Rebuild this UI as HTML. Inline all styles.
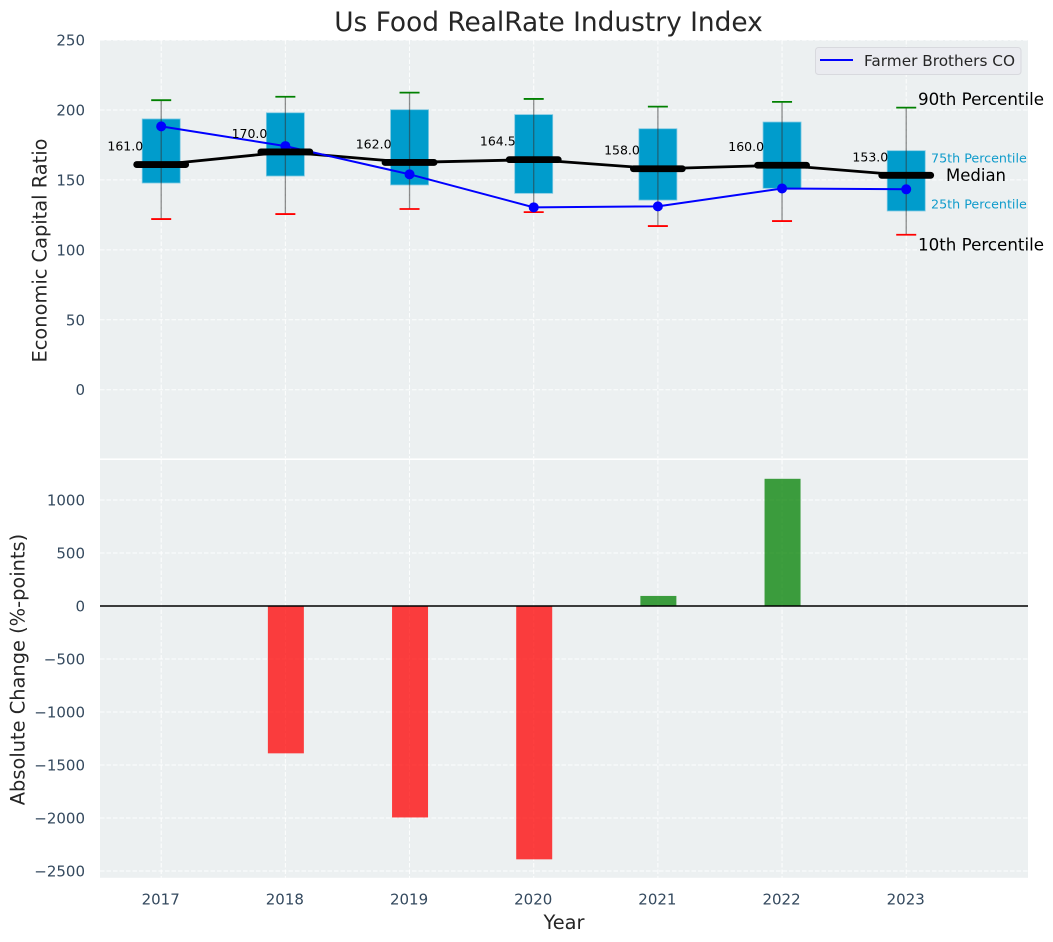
<!DOCTYPE html>
<html>
<head>
<meta charset="utf-8">
<style>
html,body{margin:0;padding:0;background:#fff;}
svg{display:block;font-family:"DejaVu Sans","Liberation Sans",sans-serif;}
</style>
</head>
<body>
<svg id="chart" width="1053" height="942" viewBox="0 0 1053 942" xmlns="http://www.w3.org/2000/svg">
<text x="548.5" y="31" text-anchor="middle" font-size="26.4px" fill="#262626">Us Food RealRate Industry Index</text>
<rect x="100" y="40" width="928" height="418.4" fill="#ecf0f1"/>
<rect x="100" y="460" width="928" height="417.8" fill="#ecf0f1"/>
<g id="grid"></g>
<g id="bars"></g>
<line x1="100" x2="1028" y1="606" y2="606" stroke="#000" stroke-width="1.4"/>
<g id="boxes"></g>
<g id="lines"></g>
<g id="medians"></g>
<g id="labels"></g>
<text transform="translate(46.5,250.5) rotate(-90)" text-anchor="middle" font-size="19.4px" fill="#262626">Economic Capital Ratio</text>
<text transform="translate(24.5,669.5) rotate(-90)" text-anchor="middle" font-size="19.4px" fill="#262626">Absolute Change (%-points)</text>
<text x="564" y="929" text-anchor="middle" font-size="19.4px" fill="#262626">Year</text>
<text x="918" y="105" font-size="16.7px" fill="#000">90th Percentile</text>
<text x="931" y="162.5" font-size="12.7px" fill="#0f9bcb">75th Percentile</text>
<text x="946" y="181" font-size="16.5px" fill="#000">Median</text>
<text x="931" y="208.5" font-size="12.7px" fill="#0f9bcb">25th Percentile</text>
<text x="918" y="250.5" font-size="16.7px" fill="#000">10th Percentile</text>
<g>
<rect x="815.5" y="47.5" width="205.5" height="27" rx="3" fill="#eaebf0" stroke="#d8d9de" stroke-width="1"/>
<line x1="820" x2="853" y1="60" y2="60" stroke="#0000ff" stroke-width="2"/>
<text x="864" y="66" font-size="15.3px" fill="#262626">Farmer Brothers CO</text>
</g>
</svg>
<script>
const years = [2017, 2018, 2019, 2020, 2021, 2022, 2023];
const p90 = [207, 209.5, 212.4, 207.9, 202.4, 205.8, 201.7];
const p75 = [193.6, 198, 200.2, 196.7, 186.6, 191.4, 170.9];
const medianValues = [161, 170, 162.5, 164.5, 158, 160.5, 153.3];
const p25 = [147.8, 152.8, 146.4, 140.4, 135.6, 144, 127.8];
const p10 = [122, 125.6, 129.2, 127, 117, 120.6, 110.8];
const company = [188.3, 174.2, 154, 130.4, 131.1, 143.9, 143.3];
const medianLabels = ["161.0", "170.0", "162.0", "164.5", "158.0", "160.0", "153.0"];
const changes = [0, -1390, -1995, -2390, 95, 1200, 0];
const topTicks = [0, 50, 100, 150, 200, 250];
const bottomTicks = [-2500, -2000, -1500, -1000, -500, 0, 500, 1000];
const NS = 'http://www.w3.org/2000/svg';
function xScale(year) { return 161.2 + (year - 2017) * 124.17; }
function yTop(value) { return 389.7 - value * 1.3985; }
function yBottom(value) { return 606 - value * 0.106; }
function make(tag, parent, attrs, text) {
  const el = document.createElementNS(NS, tag);
  for (const k in attrs) el.setAttribute(k, attrs[k]);
  if (text !== undefined) el.textContent = text;
  parent.appendChild(el);
  return el;
}
const grid = document.getElementById('grid');
const bars = document.getElementById('bars');
const boxes = document.getElementById('boxes');
const lines = document.getElementById('lines');
const medians = document.getElementById('medians');
const labels = document.getElementById('labels');
const gridStyle = { stroke: '#ffffff', 'stroke-width': 1, 'stroke-dasharray': '4.5 2', 'stroke-opacity': 0.9 };
years.forEach(function (yr) {
  const px = xScale(yr);
  const a = make('line', grid, Object.assign({ x1: px, x2: px, y1: 40, y2: 458 }, gridStyle));
  
  
  const b = make('line', grid, Object.assign({ x1: px, x2: px, y1: 460, y2: 878 }, gridStyle));
  
  
  const t = make('text', labels, { x: px - 0.5, y: 904.5, 'text-anchor': 'middle', 'font-size': '15px', fill: '#34495e' }, String(yr));
  
  
});
topTicks.forEach(function (v) {
  const py = yTop(v);
  const g = make('line', grid, Object.assign({ x1: 100, x2: 1028, y1: py, y2: py }, gridStyle));
  
  
  const t = make('text', labels, { x: 85, y: py + 5.5, 'text-anchor': 'end', 'font-size': '15px', fill: '#34495e' }, String(v));
  
  
});
bottomTicks.forEach(function (v) {
  const py = yBottom(v);
  const g = make('line', grid, Object.assign({ x1: 100, x2: 1028, y1: py, y2: py }, gridStyle));
  
  
  const t = make('text', labels, { x: 85, y: py + 5.5, 'text-anchor': 'end', 'font-size': '15px', fill: '#34495e' }, String(v).replace('-', '\u2212'));
  
  
});
years.forEach(function (yr, i) {
  const px = xScale(yr);
  const v = changes[i];
  if (v !== 0) {
    const top = Math.min(yBottom(v), yBottom(0));
    const h = Math.abs(yBottom(v) - yBottom(0));
    const bar = make('rect', bars, { x: px - 17.5, y: top, width: 36, height: h, fill: v < 0 ? '#ff0000' : '#008000', 'fill-opacity': 0.75 });
    
    
  }
  const box = make('rect', boxes, { x: px - 19, y: yTop(p75[i]), width: 38, height: yTop(p25[i]) - yTop(p75[i]), fill: '#009ccc', stroke: '#7cc8e2', 'stroke-width': 0.8 });
  
  
  const whisker = make('line', boxes, { x1: px, x2: px, y1: yTop(p90[i]), y2: yTop(p10[i]), stroke: '#333333', 'stroke-opacity': 0.55, 'stroke-width': 1.3 });
  
  
  const capHigh = make('line', boxes, { x1: px - 10, x2: px + 10, y1: yTop(p90[i]), y2: yTop(p90[i]), stroke: '#008000', 'stroke-width': 1.8 });
  
  
  const capLow = make('line', boxes, { x1: px - 10, x2: px + 10, y1: yTop(p10[i]), y2: yTop(p10[i]), stroke: '#ff0000', 'stroke-width': 1.8 });
  
  
  const medianMark = make('line', medians, { x1: px - 24.5, x2: px + 24.5, y1: yTop(medianValues[i]), y2: yTop(medianValues[i]), stroke: '#000', 'stroke-width': 6.8, 'stroke-linecap': 'round' });
  
  
  const ml = make('text', labels, { x: px - 18, y: yTop(medianValues[i]) - 14, 'text-anchor': 'end', 'font-size': '12.5px', fill: '#000' }, medianLabels[i]);
  
  
});
const medianPath = make('polyline', lines, { points: years.map(function (yr, i) { return xScale(yr) + ',' + yTop(medianValues[i]); }).join(' '), fill: 'none', stroke: '#000', 'stroke-width': 2.8 });


const companyPath = make('polyline', lines, { points: years.map(function (yr, i) { return xScale(yr) + ',' + yTop(company[i]); }).join(' '), fill: 'none', stroke: '#0000ff', 'stroke-width': 2 });


years.forEach(function (yr, i) {
  const dot = make('circle', lines, { cx: xScale(yr), cy: yTop(company[i]), r: 5, fill: '#0000ff' });
  
  
});
</script>
</body>
</html>
